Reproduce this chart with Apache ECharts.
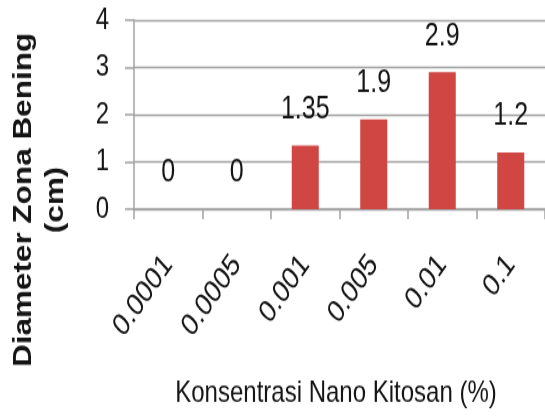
<!DOCTYPE html>
<html>
<head>
<meta charset="utf-8">
<script src="https://cdn.jsdelivr.net/npm/echarts@6/dist/echarts.min.js"></script>
<style>
  html, body { margin: 0; padding: 0; background: #fff; width: 545px; height: 417px; }
  /* the chart is laid out at 545x331 and shown stretched to the full 417px height */
  #chart { width: 545px; height: 331px; transform: scaleY(1.2598); transform-origin: 0 0; }
</style>
</head>
<body>
<div id="chart"></div>
<script>
// Clear-zone diameter for each nano-chitosan concentration
const concentrations = ['0.0001', '0.0005', '0.001', '0.005', '0.01', '0.1'];
const diameters = [0, 0, 1.35, 1.9, 2.9, 1.2];
const yTicks = [0, 1, 2, 3, 4];

const sans = '"Liberation Sans", Arial, sans-serif';
const gridGray = '#a3a3a3';
const ink = '#141414';

const chart = echarts.init(document.getElementById('chart'), null, { renderer: 'canvas' });

chart.setOption({
  animation: false,
  backgroundColor: '#ffffff',
  grid: { left: 134, right: -2, top: 16, bottom: 165, containLabel: false },
  xAxis: {
    type: 'category',
    data: concentrations,
    axisLine: { show: true, lineStyle: { color: gridGray, width: 1.5 } },
    axisTick: { show: true, length: 8, inside: false, lineStyle: { color: gridGray, width: 1.5 } },
    axisLabel: {
      rotate: 49,
      margin: 40,
      fontFamily: sans,
      fontSize: 25,
      color: ink
    },
    splitLine: { show: false }
  },
  yAxis: {
    type: 'value',
    min: yTicks[0],
    max: yTicks[yTicks.length - 1],
    interval: 1,
    axisLine: { show: true, lineStyle: { color: gridGray, width: 1.5 } },
    axisTick: { show: true, length: 9, inside: false, lineStyle: { color: gridGray, width: 1.5 } },
    axisLabel: { margin: 25, fontFamily: sans, fontSize: 24, color: ink },
    splitLine: { show: true, lineStyle: { color: gridGray, width: 1.4 } }
  },
  series: [{
    type: 'bar',
    data: diameters,
    barWidth: 27,
    itemStyle: { color: '#cf4642' },
    label: {
      show: true,
      position: 'top',
      distance: 16,
      fontFamily: sans,
      fontSize: 25,
      color: ink,
      formatter: p => String(p.value)
    }
  }],
  graphic: [
    {
      // y-axis title, two lines reading upward
      type: 'text',
      x: 40,
      y: 158.7,
      rotation: Math.PI / 2,
      style: {
        text: 'Diameter Zona Bening\n(cm)',
        font: 'bold 25px "Liberation Sans", Arial, sans-serif',
        fill: ink,
        align: 'center',
        verticalAlign: 'middle',
        lineHeight: 32
      }
    },
    {
      // x-axis title
      type: 'text',
      x: 336,
      y: 312,
      style: {
        text: 'Konsentrasi Nano Kitosan (%)',
        font: '24px "Liberation Sans", Arial, sans-serif',
        fill: ink,
        align: 'center',
        verticalAlign: 'middle'
      }
    }
  ]
});
</script>
</body>
</html>
